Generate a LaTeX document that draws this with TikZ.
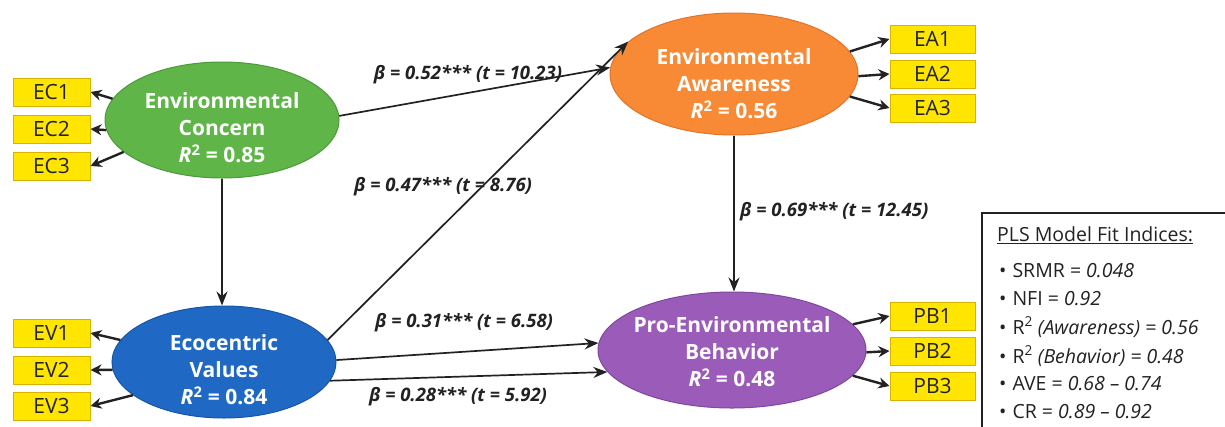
\documentclass[tikz,border=0pt]{standalone}
\usepackage{fontspec}
\setmainfont{Open Sans}
\usetikzlibrary{shapes.geometric,arrows.meta}
\definecolor{ecg}{HTML}{5FB548}
\definecolor{ecgd}{HTML}{4C9A3A}
\definecolor{eao}{HTML}{F88A35}
\definecolor{eaod}{HTML}{E0742A}
\definecolor{evb}{HTML}{1F69C4}
\definecolor{evbd}{HTML}{1755A6}
\definecolor{pbp}{HTML}{9A5CB8}
\definecolor{pbpd}{HTML}{7F479D}
\definecolor{ind}{HTML}{FFE500}
\definecolor{indd}{HTML}{D6B400}
\definecolor{arr}{HTML}{222222}
\tikzset{
  latent/.style={ellipse, inner sep=0pt, line width=1pt},
  lattext/.style={inner sep=0pt, text=white, align=center,
    font=\fontsize{21}{27}\selectfont\bfseries},
  indbox/.style={rectangle, fill=ind, draw=indd, line width=1pt, minimum height=28pt,
    inner sep=0pt, font=\fontsize{21}{22}\selectfont, text=arr},
  path/.style={draw=arr, line width=1.7pt, -{Stealth[length=14pt,width=11pt]}},
  load/.style={draw=arr, line width=2.4pt, -{Stealth[length=11pt,width=11pt]}},
  coef/.style={font=\fontsize{18.5}{20}\selectfont\bfseries\itshape, inner sep=1pt, text=arr},
  fit/.style={anchor=west, inner sep=0pt, font=\fontsize{19.5}{21}\selectfont, text=arr}
}
\begin{document}
\begin{tikzpicture}[x=1pt,y=-1pt]
\useasboundingbox (0,0) rectangle (1225,426);
\clip (0,0) rectangle (1225,426);
\fill[white] (0,0) rectangle (1225,426);

% latent variables
\node[latent, fill=ecg, draw=ecgd, minimum width=234pt, minimum height=116pt] (EC) at (222,120) {};
\node[lattext] (ECt) at ([yshift=-8pt]EC.center) {Environmental\\Concern\\\textit{R}\textsuperscript{2} = 0.85};
\node[latent, fill=eao, draw=eaod, minimum width=248pt, minimum height=122pt] (EA) at (734,74) {};
\node[lattext] (EAt) at ([yshift=-10pt]EA.center) {Environmental\\Awareness\\\textit{R}\textsuperscript{2} = 0.56};
\node[latent, fill=evb, draw=evbd, minimum width=224pt, minimum height=112pt] (EV) at (224,362) {};
\node[lattext] (EVt) at ([yshift=-8pt]EV.center) {Ecocentric\\Values\\\textit{R}\textsuperscript{2} = 0.84};
\node[latent, fill=pbp, draw=pbpd, minimum width=268pt, minimum height=116pt] (PB) at (732,350) {};
\node[lattext] (PBt) at ([yshift=-2pt]PB.center) {Pro-Environmental\\Behavior\\\textit{R}\textsuperscript{2} = 0.48};

% indicators
\node[indbox, minimum width=77pt] (EC1) at (51.5,92) {EC1};
\node[indbox, minimum width=77pt] (EC2) at (51.5,129) {EC2};
\node[indbox, minimum width=77pt] (EC3) at (51.5,166) {EC3};
\node[indbox, minimum width=77pt] (EV1) at (51.5,333) {EV1};
\node[indbox, minimum width=77pt] (EV2) at (51.5,370) {EV2};
\node[indbox, minimum width=77pt] (EV3) at (51.5,406) {EV3};
\node[indbox, minimum width=85pt] (EA1) at (932.5,39) {EA1};
\node[indbox, minimum width=85pt] (EA2) at (932.5,74) {EA2};
\node[indbox, minimum width=85pt] (EA3) at (932.5,108) {EA3};
\node[indbox, minimum width=85pt] (PB1) at (932.5,316) {PB1};
\node[indbox, minimum width=85pt] (PB2) at (932.5,351) {PB2};
\node[indbox, minimum width=85pt] (PB3) at (932.5,386) {PB3};

% loadings
\draw[load] (EC.169) -- (EC1.east);
\draw[load] (EC.185) -- (EC2.east);
\draw[load] (EC.198) -- (EC3.east);
\draw[load] (EV.168) -- (EV1.east);
\draw[load] (EV.184) -- (EV2.east);
\draw[load] (EV.200) -- (EV3.east);
\draw[load] (EA.11) -- (EA1.west);
\draw[load] (EA.-1) -- (EA2.west);
\draw[load] (EA.-11) -- (EA3.west);
\draw[load] (PB.12) -- (PB1.west);
\draw[load] (PB.-1) -- (PB2.west);
\draw[load] (PB.-12) -- (PB3.west);

% structural paths
\draw[path] (EC.2) -- (EA.177);
\draw[path] (EC.south) -- (EC.south |- EV.north);
\draw[path] (EV.12) -- (EA.163);
\draw[path] (EV.1) -- (PB.177);
\draw[path] (EV.-10) -- (PB.-170);
\draw[path] (EA.south) -- (EA.south |- PB.north);

% coefficients
\node[coef] (c1) at (468,75) {β = 0.52*** (t = 10.23)};
\node[coef] (c2) at (443,187) {β = 0.47*** (t = 8.76)};
\node[coef, anchor=west] (c3) at (739,212) {β = 0.69*** (t = 12.45)};
\node[coef] (c4) at (464,323) {β = 0.31*** (t = 6.58)};
\node[coef] (c5) at (458,397) {β = 0.28*** (t = 5.92)};

% fit indices box
\draw[line width=2pt, draw=arr, fill=white] (982,213) rectangle (1240,440);
\node[fit] (t0) at (997,235) {\underline{PLS Model Fit Indices:}};
\node[fit] (t1) at (999,271) {•\hspace{6pt}SRMR = \textit{0.048}};
\node[fit] (t2) at (999,299) {•\hspace{6pt}NFI = \textit{0.92}};
\node[fit] (t3) at (999,327) {•\hspace{6pt}R\textsuperscript{2} \textit{(Awareness) = 0.56}};
\node[fit] (t4) at (999,356) {•\hspace{6pt}R\textsuperscript{2} \textit{(Behavior) = 0.48}};
\node[fit] (t5) at (999,384) {•\hspace{6pt}AVE = \textit{0.68 – 0.74}};
\node[fit] (t6) at (999,412) {•\hspace{6pt}CR = \textit{0.89 – 0.92}};
\end{tikzpicture}
\end{document}
